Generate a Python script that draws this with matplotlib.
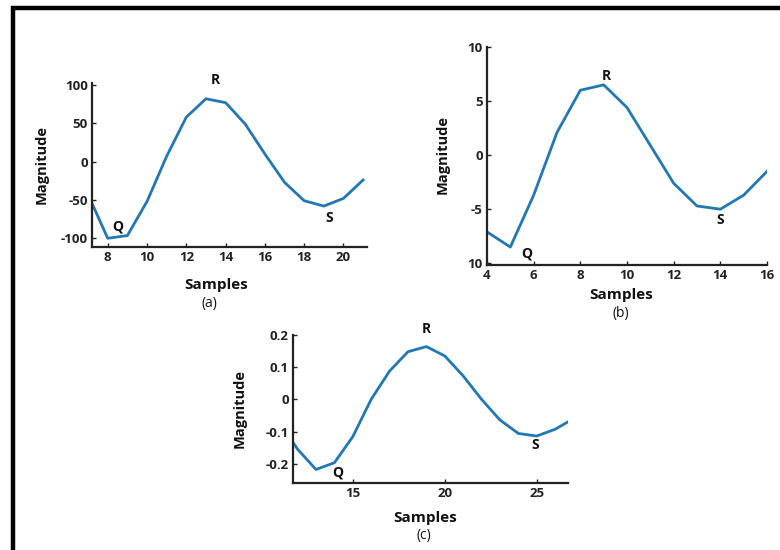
import matplotlib
matplotlib.use("Agg")
import matplotlib.pyplot as plt
from matplotlib.lines import Line2D

plt.rcParams['font.family'] = ['Open Sans', 'DejaVu Sans']

# panel (a)
samples_a = [7, 8, 9, 10, 11, 12, 13, 14, 15, 16, 17, 18, 19, 20, 21]
mag_a = [-43, -100, -96.5, -52, 7, 58, 82, 77, 49, 10, -27, -51, -58, -48, -24]
yticks_a = [-100, -50, 0, 50, 100]
ytick_labels_a = ['-100', '-50', '0', '50', '100']
xticks_a = [8, 10, 12, 14, 16, 18, 20]

# panel (b)
samples_b = [4, 5, 6, 7, 8, 9, 10, 11, 12, 13, 14, 15, 16]
mag_b = [-7.1, -8.5, -3.7, 2.1, 6.0, 6.5, 4.4, 0.9, -2.6, -4.7, -5.0, -3.7, -1.5]
yticks_b = [-10, -5, 0, 5, 10]
ytick_labels_b = ['10', '-5', '0', '5', '10']   # bottom label printed without minus in the original
xticks_b = [4, 6, 8, 10, 12, 14, 16]

# panel (c)
samples_c = [11, 12, 13, 14, 15, 16, 17, 18, 19, 20, 21, 22, 23, 24, 25, 26, 27]
mag_c = [-0.07, -0.155, -0.218, -0.197, -0.116, 0.0, 0.088, 0.148, 0.164, 0.135,
         0.073, 0.0, -0.064, -0.106, -0.114, -0.093, -0.06]
yticks_c = [-0.2, -0.1, 0, 0.1, 0.2]
ytick_labels_c = ['-0.2', '-0.1', '0', '0.1', '0.2']
xticks_c = [15, 20, 25]

# Q, R, S label positions (data coords)
qrs_a = [('Q', 8.5, -84), ('R', 13.5, 106), ('S', 19.3, -73)]
qrs_b = [('Q', 5.7, -9.1), ('R', 9.1, 7.3), ('S', 14.0, -6.0)]
qrs_c = [('Q', 14.2, -0.228), ('R', 19.0, 0.22), ('S', 24.9, -0.142)]

LINE_COLOR = '#2277b5'
W, H = 780, 550


def px_axes(fig, left, top, right, bottom):
    return fig.add_axes([left / W, 1 - bottom / H, (right - left) / W, (bottom - top) / H])


def style_axes(ax):
    for side in ['top', 'right']:
        ax.spines[side].set_visible(False)
    for side in ['left', 'bottom']:
        ax.spines[side].set_linewidth(1.6)
        ax.spines[side].set_color('#222222')
    ax.tick_params(direction='in', length=3, width=1, labelsize=9.5, colors='#222222', pad=3)
    for lab in ax.get_xticklabels() + ax.get_yticklabels():
        lab.set_fontweight('bold')
    ax.patch.set_alpha(0)


def draw_panel(fig, box, x, y, xlim, ylim, xticks, yticks, ylabels, marks):
    ax = px_axes(fig, *box)
    ax.plot(x, y, color=LINE_COLOR, lw=2.0, clip_on=True)
    ax.set_xlim(*xlim)
    ax.set_ylim(*ylim)
    ax.set_xticks(xticks)
    ax.set_yticks(yticks)
    ax.set_yticklabels(ylabels)
    for name, tx, ty in marks:
        ax.text(tx, ty, name, ha='center', va='center', fontsize=10,
                fontweight='bold', color='#111111', clip_on=False)
    style_axes(ax)
    return ax


def fig_text(fig, x, y, s, **kw):
    fig.text(x / W, 1 - y / H, s, ha='center', va='center', color='#111111', **kw)


fig = plt.figure(figsize=(7.8, 5.5), dpi=100)

draw_panel(fig, (92, 83, 367, 247), samples_a, mag_a, (7.2, 21.2), (-111.4, 102.6),
           xticks_a, yticks_a, ytick_labels_a, qrs_a)
fig_text(fig, 42, 165, 'Magnitude', rotation=90, fontsize=10.5, fontweight='bold')
fig_text(fig, 216, 285, 'Samples', fontsize=11, fontweight='bold')
fig_text(fig, 209, 303, '(a)', fontsize=10)

draw_panel(fig, (487, 47, 767, 265), samples_b, mag_b, (4, 16), (-10.16, 10),
           xticks_b, yticks_b, ytick_labels_b, qrs_b)
fig_text(fig, 443, 155, 'Magnitude', rotation=90, fontsize=10.5, fontweight='bold')
fig_text(fig, 621, 295, 'Samples', fontsize=11, fontweight='bold')
fig_text(fig, 621, 313, '(b)', fontsize=10)

draw_panel(fig, (293, 335, 568, 483), samples_c, mag_c, (11.75, 26.7), (-0.26, 0.2),
           xticks_c, yticks_c, ytick_labels_c, qrs_c)
fig_text(fig, 240, 408, 'Magnitude', rotation=90, fontsize=10.5, fontweight='bold')
fig_text(fig, 425, 518, 'Samples', fontsize=11, fontweight='bold')
fig_text(fig, 424, 535, '(c)', fontsize=10)

# outer frame: only top and left edges show in the original crop
fig.add_artist(Line2D([13 / W, 13 / W, 1.0], [0.0, 1 - 8 / H, 1 - 8 / H],
                      transform=fig.transFigure, color='black', lw=3.2,
                      solid_joinstyle='miter'))

fig.savefig('out.png', dpi=100)
